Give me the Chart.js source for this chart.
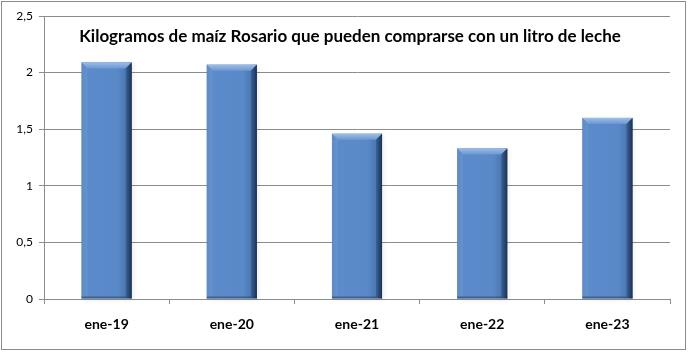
<!DOCTYPE html>
<html>
<head>
<meta charset="utf-8">
<script src="https://cdn.jsdelivr.net/npm/chart.js@4.4.1/dist/chart.umd.min.js"></script>
<style>
html,body{margin:0;padding:0;background:#fff;}
#wrap{width:690px;height:355px;position:relative;}
</style>
</head>
<body>
<div id="wrap"><canvas id="c" width="690" height="355"></canvas></div>
<script>
const categories = ["ene-19", "ene-20", "ene-21", "ene-22", "ene-23"];
const values = [2.09, 2.07, 1.46, 1.33, 1.60];
const yTicks = [0, 0.5, 1, 1.5, 2, 2.5];
const titleText = "Kilogramos de maíz Rosario que pueden comprarse con un litro de leche";

const FONT = "Lato, 'Open Sans', sans-serif";

const framePlugin = {
  id: 'frame',
  beforeDraw(chart) {
    const ctx = chart.ctx;
    ctx.save();
    ctx.fillStyle = '#fff';
    ctx.fillRect(0, 0, chart.width, chart.height);
    ctx.strokeStyle = '#8c8c8c';
    ctx.lineWidth = 1;
    ctx.strokeRect(1.5, 1.5, 684, 348);
    ctx.restore();
  },
  beforeDatasetsDraw(chart) {
    const ctx = chart.ctx;
    ctx.save();
    const meta = chart.getDatasetMeta(0);
    meta.data.forEach(b => {
      const l = b.x - b.width / 2, t = b.y, h = b.base - b.y;
      ctx.fillStyle = 'rgba(0,0,0,0.18)';
      ctx.shadowColor = 'rgba(0,0,0,0.45)';
      ctx.shadowBlur = 5;
      ctx.shadowOffsetX = 2;
      ctx.shadowOffsetY = 1;
      ctx.fillRect(l, t, b.width, h);
    });
    ctx.restore();
  },
  afterDatasetsDraw(chart) {
    const ctx = chart.ctx;
    const meta = chart.getDatasetMeta(0);
    ctx.save();
    meta.data.forEach(b => {
      const l = b.x - b.width / 2, r = b.x + b.width / 2, t = b.y, bot = b.base;
      const bev = 6;
      const g = ctx.createLinearGradient(l, 0, r, 0);
      g.addColorStop(0, '#4a78b6');
      g.addColorStop(0.15, '#5b8bcb');
      g.addColorStop(0.72, '#5a89c8');
      g.addColorStop(0.9, '#4a76b0');
      g.addColorStop(1, '#28456f');
      ctx.fillStyle = g;
      ctx.fillRect(l, t, r - l, bot - t);
      ctx.beginPath();
      ctx.moveTo(l, t); ctx.lineTo(r, t); ctx.lineTo(r - bev, t + bev); ctx.lineTo(l + bev, t + bev); ctx.closePath();
      const gt = ctx.createLinearGradient(0, t, 0, t + bev);
      gt.addColorStop(0, '#9cbde8'); gt.addColorStop(1, '#6c98d2');
      ctx.fillStyle = gt; ctx.fill();
      ctx.beginPath();
      ctx.moveTo(l, t); ctx.lineTo(l + bev, t + bev); ctx.lineTo(l + bev, bot - 2); ctx.lineTo(l, bot); ctx.closePath();
      ctx.fillStyle = 'rgba(120,160,215,0.45)'; ctx.fill();
      ctx.beginPath();
      ctx.moveTo(r, t); ctx.lineTo(r - bev, t + bev); ctx.lineTo(r - bev, bot - 2); ctx.lineTo(r, bot); ctx.closePath();
      const gr = ctx.createLinearGradient(r - bev, 0, r, 0);
      gr.addColorStop(0, '#3a6298'); gr.addColorStop(1, '#1b3255');
      ctx.fillStyle = gr; ctx.fill();
      ctx.fillStyle = 'rgba(30,55,95,0.5)';
      ctx.fillRect(l, bot - 2, r - l, 2);
    });
    ctx.restore();
  },
  afterDraw(chart) {
    const ctx = chart.ctx;
    ctx.save();
    ctx.font = "bold 17px " + FONT;
    ctx.fillStyle = '#000';
    ctx.textAlign = 'center';
    ctx.textBaseline = 'middle';
    ctx.fillText(titleText, 350, 37);
    ctx.restore();
  }
};

new Chart(document.getElementById('c'), {
  type: 'bar',
  data: {
    labels: categories,
    datasets: [{
      data: values,
      backgroundColor: 'rgba(0,0,0,0)',
      borderWidth: 0,
      barPercentage: 0.4,
      categoryPercentage: 1.0
    }]
  },
  options: {
    responsive: false,
    animation: false,
    devicePixelRatio: 1,
    layout: { padding: { top: 16, right: 20, left: 0, bottom: 0 } },
    plugins: { legend: { display: false }, tooltip: { enabled: false }, title: { display: false } },
    scales: {
      x: {
        offset: true,
        grid: { display: true, drawOnChartArea: false, drawTicks: true, tickLength: 5, offset: true, color: '#8c8c8c' },
        border: { display: true, color: '#8c8c8c' },
        ticks: { color: '#000', font: { family: FONT, size: 14, weight: 'bold' }, padding: 12, maxRotation: 0 },
        afterFit(scale) { scale.height = 56; }
      },
      y: {
        min: 0, max: 2.5,
        afterBuildTicks(scale) { scale.ticks = yTicks.map(v => ({ value: v })); },
        grid: { color: '#8c8c8c', drawTicks: true, tickLength: 5 },
        border: { display: true, color: '#8c8c8c' },
        ticks: {
          color: '#000', font: { family: FONT, size: 12 }, padding: 6,
          callback: v => String(v).replace('.', ',')
        },
        afterFit(scale) { scale.width = 44; }
      }
    }
  },
  plugins: [framePlugin]
});
</script>
</body>
</html>
